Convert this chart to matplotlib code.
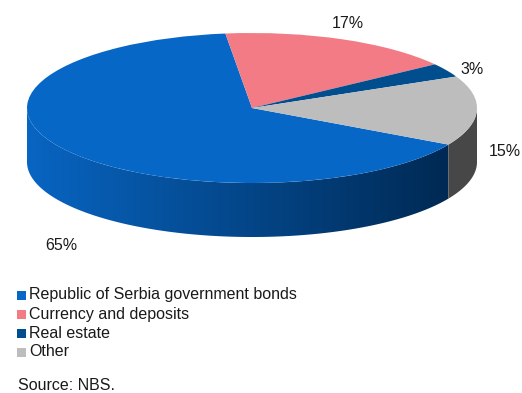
import numpy as np
import matplotlib
matplotlib.use("Agg")
import matplotlib.pyplot as plt
from matplotlib.patches import Rectangle, Polygon
from matplotlib.colors import LinearSegmentedColormap

categories = ["Republic of Serbia government bonds", "Currency and deposits",
              "Real estate", "Other"]
shares = [65, 17, 3, 15]
top_colors = ["#0767c6", "#f27b85", "#004e8e", "#bdbdbd"]
side_light = ["#0865c2", "#c9606a", "#003d70", "#505050"]
side_dark = ["#002a55", "#8a3d45", "#002340", "#474747"]
source_note = "Source: NBS."

W, H = 522, 393
plt.rcParams["font.family"] = ["Liberation Sans", "DejaVu Sans"]
fig = plt.figure(figsize=(W / 100, H / 100), dpi=100)

# pie geometry in pixels
cx, cy, rx, ry, depth = 252, 108, 225, 75, 54
d = depth / ry
start = -29.2

ax = fig.add_axes([(cx - rx) / W, 1 - (cy + ry + depth) / H,
                   2 * rx / W, (2 * ry + depth) / H])

# wedge boundaries, clockwise from the start angle
fracs = np.array(shares, dtype=float) / sum(shares)
bounds = start - 360 * np.concatenate([[0], np.cumsum(fracs)])

# gradient used for the visible wall (lighter on the left, dark on the right)
ramp = np.clip((np.linspace(-1, 1, 600) + 1) / 2 / 0.93, 0, 1)[None, :]

for i in range(len(shares)):
    hi, lo = bounds[i], bounds[i + 1]
    # visible part of the wall: angles between -180 and 0 degrees
    segs = []
    for shift in (-360, 0, 360):
        a0 = max(lo + shift, -180)
        a1 = min(hi + shift, 0)
        if a1 > a0:
            segs.append((a0, a1))
    for a0, a1 in segs:
        t = np.radians(np.linspace(a0, a1, 200))
        top = np.column_stack([np.cos(t), np.sin(t)])
        bot = np.column_stack([np.cos(t), np.sin(t) - d])[::-1]
        poly = Polygon(np.vstack([top, bot]), closed=True,
                       facecolor="none", edgecolor="none")
        ax.add_patch(poly)
        cmap = LinearSegmentedColormap.from_list(
            f"wall{i}", [side_light[i], side_dark[i]])
        im = ax.imshow(ramp, cmap=cmap, vmin=0, vmax=1, aspect="auto",
                       extent=(-1, 1, -1 - d, 1), interpolation="bilinear",
                       origin="lower")
        im.set_clip_path(poly)

# top face
ax.pie(shares, colors=top_colors, startangle=start, counterclock=False,
       radius=1, wedgeprops=dict(linewidth=0))
ax.set_aspect("auto")
ax.set_xlim(-1, 1)
ax.set_ylim(-1 - d, 1)
ax.axis("off")

# value labels
label_pos = [(61, 245), (348, 23), (472, 69), (505, 152)]
for v, (x, y) in zip(shares, label_pos):
    fig.text(x / W, 1 - y / H, f"{v}%", ha="center", va="center",
             fontsize=11.5, color="#1a1a1a")

# legend
rows = [295, 314, 333, 352]
for name, col, y in zip(categories, top_colors, rows):
    fig.add_artist(Rectangle((17 / W, 1 - (y + 4.5) / H), 9 / W, 9 / H,
                             transform=fig.transFigure, facecolor=col,
                             edgecolor="none"))
    fig.text(29 / W, 1 - y / H, name, ha="left", va="center",
             fontsize=11.5, color="#1a1a1a")

fig.text(18 / W, 1 - 385 / H, source_note, ha="left", va="center",
         fontsize=11.5, color="#1a1a1a")

fig.savefig("out.png", dpi=100)
